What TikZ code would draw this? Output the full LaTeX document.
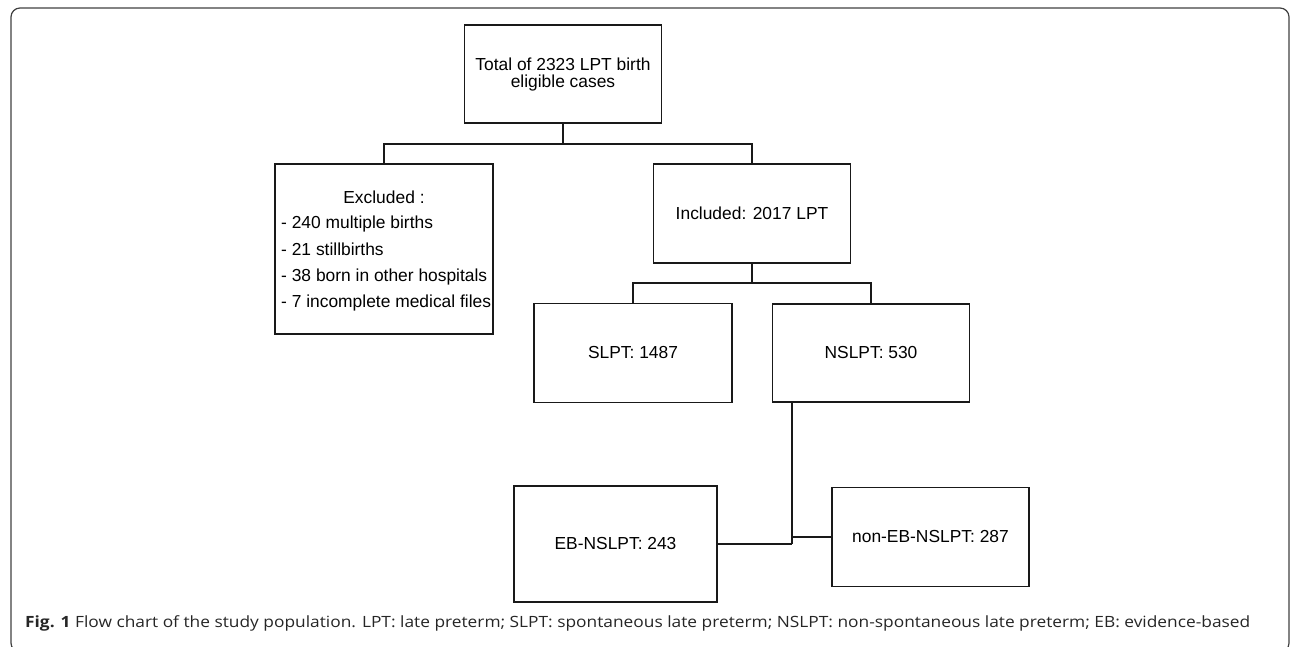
\documentclass[tikz,border=0pt]{standalone}
\usepackage{fontspec}
\setmainfont{Liberation Sans}
\newfontfamily\capfont{Open Sans}
\usepackage{graphicx}
\begin{document}
\begin{tikzpicture}[x=1pt,y=-1pt,
  box/.style={draw=black!90,line width=1.6pt,rectangle,inner sep=0pt,align=center,
     font=\fontsize{17.4}{18}\selectfont},
  txt/.style={inner sep=0pt,font=\fontsize{17.4}{18}\selectfont},
  conn/.style={draw=black!90,line width=1.6pt}]
\useasboundingbox (0,0) rectangle (1290,647);
\draw[black!75,line width=1.2pt,rounded corners=9pt] (11,8) rectangle (1289,652);
% boxes
\node[box,minimum width=197pt,minimum height=98pt] (top) at (563,74) {};
\node[txt,anchor=base] (topa) at (563,71) {Total of 2323 LPT birth};
\node[txt,anchor=base] (topb) at (563,88) {eligible cases};
\node[box,minimum width=218pt,minimum height=170pt] (exc) at (384,249) {};
\node[txt,anchor=base] (exct) at (384,204) {Excluded :};
\node[txt,anchor=base west] (ex1) at (281,229) {- 240 multiple births};
\node[txt,anchor=base west] (ex2) at (281,255) {- 21 stillbirths};
\node[txt,anchor=base west] (ex3) at (281,281) {- 38 born in other hospitals};
\node[txt,anchor=base west] (ex4) at (281,307) {- 7 incomplete medical files};
\node[box,minimum width=197pt,minimum height=99pt] (inc) at (752,213.5) {Included: 2017 LPT};
\node[box,minimum width=198pt,minimum height=99pt] (slpt) at (633,353) {SLPT: 1487};
\node[box,minimum width=197pt,minimum height=98pt] (nslpt) at (871,353) {NSLPT: 530};
\node[box,minimum width=203pt,minimum height=116pt] (eb) at (615.5,544) {EB-NSLPT: 243};
\node[box,minimum width=197pt,minimum height=99pt] (neb) at (930.5,537) {non-EB-NSLPT: 287};
% connectors
\coordinate (j1) at (563,144);
\draw[conn] (top.south) -- (j1);
\draw[conn] (exc.north) |- (j1) -| (inc.north);
\coordinate (j2) at (752,283);
\draw[conn] (inc.south) -- (j2);
\draw[conn] (slpt.north) |- (j2) -| (nslpt.north);
\coordinate (ns) at (792,403);
\coordinate (nsb) at (792,544);
\coordinate (nsm) at (792,537);
\draw[conn] (ns) -- (nsb);
\draw[conn] (eb.east) -- (nsb);
\draw[conn] (nsm) -- (neb.west);
% caption
\node[anchor=base west,inner sep=0pt] (cap) at (25,627) {\resizebox{1225pt}{\height}{\capfont\fontsize{15.5}{17}\selectfont\color{black!85}\textbf{Fig. 1} Flow chart of the study population. LPT: late preterm; SLPT: spontaneous late preterm; NSLPT: non-spontaneous late preterm; EB: evidence-based}};
\end{tikzpicture}
\end{document}
